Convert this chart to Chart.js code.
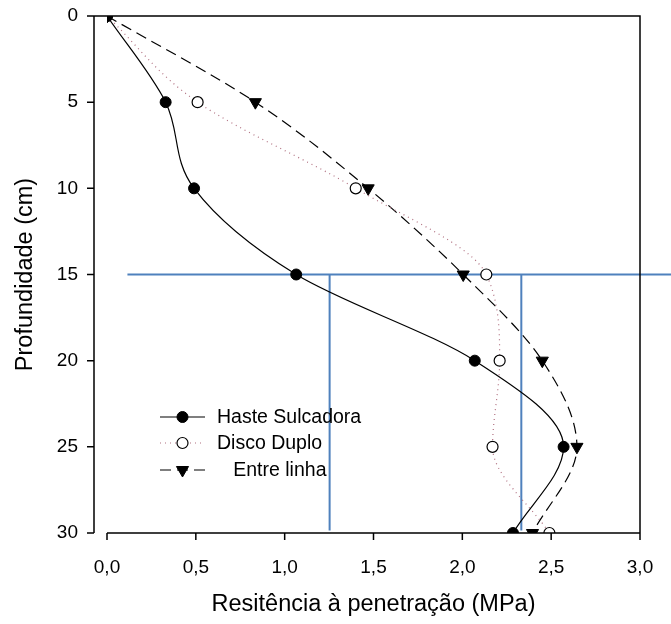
<!DOCTYPE html>
<html>
<head>
<meta charset="utf-8">
<script src="https://cdn.jsdelivr.net/npm/chart.js@4/dist/chart.umd.min.js"></script>
<style>
  html, body { margin: 0; padding: 0; background: #fff; }
  #wrap { width: 671px; height: 624px; }
</style>
</head>
<body>
<div id="wrap"><canvas id="myChart" width="671" height="624"></canvas></div>
<script>
// Data
const depths = [0, 5, 10, 15, 20, 25, 30];
const haste  = [0.0, 0.33, 0.49, 1.065, 2.07, 2.57, 2.285];
const disco  = [0.0, 0.51, 1.40, 2.135, 2.21, 2.17, 2.49];
const entre  = [0.0, 0.835, 1.47, 2.005, 2.45, 2.645, 2.395];
const seriesNames = ['Haste Sulcadora', 'Disco Duplo', '   Entre linha'];

// Reference lines (blue)
const refH = { y: 15, x: [0.115, 3.2] };
const refV = [1.253, 2.332];
const refVDepth = [15, 29.85];

const xTicks = [0, 0.5, 1.0, 1.5, 2.0, 2.5, 3.0];
const yTicks = [0, 5, 10, 15, 20, 25, 30];

const FONT = "'Liberation Sans', Arial, sans-serif";
const BLUE = '#4f81bd';

function pts(xs) {
  return xs.map((x, i) => ({ x, y: depths[i] }));
}

const curve = { cubicInterpolationMode: 'monotone' };

const datasets = [
  {
    label: seriesNames[0], data: pts(haste), ...curve,
    borderColor: '#000', borderWidth: 1.2,
    pointStyle: 'circle', pointRadius: 5.5, pointBackgroundColor: '#000',
    pointBorderColor: '#000', pointBorderWidth: 1
  },
  {
    label: seriesNames[1], data: pts(disco), ...curve,
    borderColor: '#b07080', borderWidth: 1.2, borderDash: [1, 4],
    pointStyle: 'circle', pointRadius: 5.5, pointBackgroundColor: '#fff',
    pointBorderColor: '#000', pointBorderWidth: 1.2
  },
  {
    label: seriesNames[2], data: pts(entre), ...curve,
    borderColor: '#000', borderWidth: 1.2, borderDash: [11, 6],
    pointStyle: 'triangle', pointRotation: 180, pointRadius: 7, pointBackgroundColor: '#000',
    pointBorderColor: '#000', pointBorderWidth: 1
  },
  {
    label: 'refH', data: refH.x.map(x => ({ x, y: refH.y })),
    borderColor: BLUE, borderWidth: 2, pointRadius: 0, clip: false, order: 5
  },
  ...refV.map(x => ({
    label: 'refV', data: refVDepth.map(y => ({ x, y })),
    borderColor: BLUE, borderWidth: 2, pointRadius: 0, clip: false, order: 5
  }))
];

// axis frame, ticks and legend
const framePlugin = {
  id: 'frame',
  afterDatasetsDraw(chart) {
    const { ctx, chartArea: a, scales: { x, y } } = chart;
    const yAxisX = a.left - 13;
    ctx.save();
    ctx.strokeStyle = '#000';
    ctx.lineWidth = 1.5;
    ctx.beginPath();
    ctx.moveTo(yAxisX, a.top); ctx.lineTo(a.right, a.top);
    ctx.lineTo(a.right, a.bottom);
    ctx.moveTo(yAxisX, a.top); ctx.lineTo(yAxisX, a.bottom);
    ctx.moveTo(a.left, a.bottom); ctx.lineTo(a.right, a.bottom);
    yTicks.forEach(v => {
      const p = y.getPixelForValue(v);
      ctx.moveTo(yAxisX, p); ctx.lineTo(yAxisX - 7, p);
    });
    xTicks.forEach(v => {
      const p = x.getPixelForValue(v);
      ctx.moveTo(p, a.bottom); ctx.lineTo(p, a.bottom + 7);
    });
    ctx.stroke();

    // legend
    const rows = [417, 443, 470];
    const x0 = a.left + 53, x1 = a.left + 98, mx = (x0 + x1) / 2;
    ctx.font = '19.5px ' + FONT;
    ctx.textBaseline = 'middle';
    ctx.fillStyle = '#000';
    for (let i = 0; i < 3; i++) {
      const ds = chart.data.datasets[i];
      const ry = rows[i];
      ctx.save();
      ctx.strokeStyle = ds.borderColor;
      ctx.lineWidth = ds.borderWidth;
      ctx.setLineDash(ds.borderDash || []);
      ctx.beginPath(); ctx.moveTo(x0, ry); ctx.lineTo(x1, ry); ctx.stroke();
      ctx.restore();
      ctx.save();
      ctx.fillStyle = ds.pointBackgroundColor;
      ctx.strokeStyle = ds.pointBorderColor;
      ctx.lineWidth = ds.pointBorderWidth;
      Chart.helpers.drawPoint(ctx, {
        pointStyle: ds.pointStyle, rotation: ds.pointRotation || 0,
        radius: ds.pointRadius, borderWidth: ds.pointBorderWidth
      }, mx, ry);
      ctx.restore();
      ctx.fillText(ds.label, x1 + 12, ry + 1);
    }
    ctx.restore();
  }
};

const fmt = v => v.toFixed(1).replace('.', ',');
const noPad = s => { s.paddingTop = 0; s.paddingBottom = 0; s.paddingLeft = 0; s.paddingRight = 0; };

new Chart(document.getElementById('myChart'), {
  type: 'line',
  data: { datasets },
  options: {
    responsive: false,
    animation: false,
    indexAxis: 'y',
    layout: { padding: { top: 16, right: 31, left: 0, bottom: 0 } },
    plugins: { legend: { display: false }, tooltip: { enabled: false } },
    scales: {
      x: {
        type: 'linear', min: 0, max: 3,
        grid: { display: false }, border: { display: false },
        afterFit: s => { s.height = 91; noPad(s); },
        afterBuildTicks: s => { s.ticks = xTicks.map(value => ({ value })); },
        ticks: { color: '#000', padding: 15, maxRotation: 0, font: { family: FONT, size: 19 }, callback: v => fmt(v) },
        title: { display: true, text: 'Resitência à penetração (MPa)', color: '#000', font: { family: FONT, size: 23.5 }, padding: { top: 0, bottom: 5 } }
      },
      y: {
        type: 'linear', min: 0, max: 30, reverse: true,
        grid: { display: false }, border: { display: false },
        afterFit: s => { s.width = 107; noPad(s); },
        afterBuildTicks: s => { s.ticks = yTicks.map(value => ({ value })); },
        ticks: { color: '#000', padding: 21, font: { family: FONT, size: 19 } },
        title: { display: true, text: 'Profundidade (cm)', color: '#000', font: { family: FONT, size: 23.5 }, padding: { top: 11, bottom: 0 } }
      }
    }
  },
  plugins: [framePlugin]
});
</script>
</body>
</html>
